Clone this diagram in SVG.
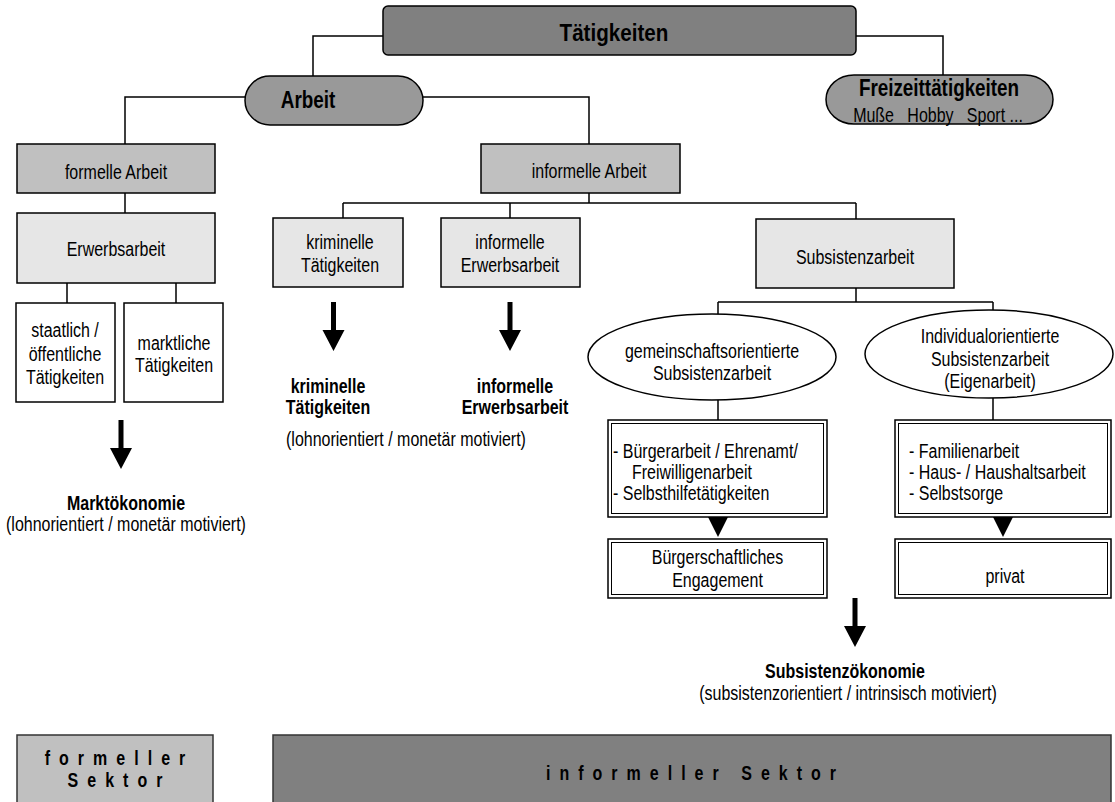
<svg xmlns="http://www.w3.org/2000/svg" width="1115" height="802" viewBox="0 0 1115 802">
  <style>
    /* narrow sans: regular sans squeezed horizontally via each label's transform */
    .t { font-family: "Liberation Sans", Arial, sans-serif; font-size: 19.5px; fill: #000; text-anchor: middle; }
    .b { font-weight: bold; }
    .st { text-anchor: start; }
    .ttl { font-size: 23px; font-weight: bold; }
    .sp { font-weight: bold; letter-spacing: 11px; }
    .ln { fill: none; stroke: #000; stroke-width: 1.5; }
    .bx { stroke: #000; stroke-width: 1.5; }
    .dark { fill: #808080; }
    .mid { fill: #999999; }
    .grey { fill: #c0c0c0; }
    .light { fill: #e6e6e6; }
    .white { fill: #ffffff; }
    .dbl-in { fill: none; stroke: #000; stroke-width: 1; }
    .sec { stroke: #333; stroke-width: 1.5; }
  </style>
  <defs>
    <!-- thick down arrow: shaft plus head, origin at top centre -->
    <path id="down-arrow" d="M-2.5,0 H2.5 V28 H11 L0,49 L-11,28 H-2.5 Z" fill="#000"/>
    <!-- small wedge hanging under a framed box -->
    <path id="wedge" d="M-10,0 H10 L0,20 Z" fill="#000"/>
  </defs>

  <rect width="1115" height="802" fill="#fff"/>

  <!-- connectors -->
  <g id="connectors" class="ln">
    <path d="M383,36 H313 V76"/>
    <path d="M856,36 H943 V75"/>
    <path d="M245,97 H125 V144"/>
    <path d="M423,97 H589 V144"/>
    <path d="M125,193 V213"/>
    <path d="M67,283 V303 M176,283 V303"/>
    <path d="M589,193 V203 M343,203 H856 M343,203 V218 M510,203 V218 M856,203 V219"/>
    <path d="M856,288 V302 M718,302 H993 M718,302 V314 M993,302 V310"/>
    <path d="M718,400 V420 M993,398 V420"/>
  </g>

  <g id="n-taetigkeiten">
    <rect class="bx dark" x="383" y="6" width="473" height="49" rx="5"/>
    <text class="t b" transform="translate(614 41) scale(.86 1)" style="font-size:24px">Tätigkeiten</text>
  </g>

  <g id="n-arbeit">
    <path class="bx mid" d="M270,76 H398 A25,24.5 0 0 1 398,125 H270 A25,24.5 0 0 1 270,76 Z"/>
    <text class="t ttl" transform="translate(308 108) scale(.82 1)">Arbeit</text>
  </g>

  <g id="n-freizeit">
    <rect class="bx mid" x="826" y="75" width="227" height="49" rx="28" ry="24.5"/>
    <text class="t ttl" transform="translate(939 96) scale(.82 1)">Freizeittätigkeiten</text>
    <text class="t" transform="translate(938 122) scale(.82 1)" xml:space="preserve">Muße   Hobby   Sport ...</text>
  </g>

  <g id="n-formelle-arbeit">
    <rect class="bx grey" x="17" y="144" width="198" height="49"/>
    <text class="t" transform="translate(116 179) scale(.82 1)">formelle Arbeit</text>
  </g>

  <g id="n-erwerbsarbeit">
    <rect class="bx light" x="17" y="213" width="198" height="70"/>
    <text class="t" transform="translate(116 256) scale(.82 1)">Erwerbsarbeit</text>
  </g>

  <g id="n-staatlich">
    <rect class="bx white" x="16" y="303" width="99" height="99"/>
    <text class="t" transform="translate(65 337) scale(.82 1)">staatlich /</text>
    <text class="t" transform="translate(65 361) scale(.82 1)">öffentliche</text>
    <text class="t" transform="translate(65 384) scale(.82 1)">Tätigkeiten</text>
  </g>

  <g id="n-marktlich">
    <rect class="bx white" x="124" y="303" width="99" height="99"/>
    <text class="t" transform="translate(174 350) scale(.82 1)">marktliche</text>
    <text class="t" transform="translate(174 372) scale(.82 1)">Tätigkeiten</text>
  </g>

  <g id="n-marktoekonomie">
    <use href="#down-arrow" x="121" y="420"/>
    <text class="t b" transform="translate(126 510) scale(.82 1)">Marktökonomie</text>
    <text class="t" transform="translate(126 531) scale(.82 1)">(lohnorientiert / monetär motiviert)</text>
  </g>

  <g id="n-informelle-arbeit">
    <rect class="bx grey" x="481" y="144" width="199" height="49"/>
    <text class="t" transform="translate(589 178) scale(.82 1)">informelle Arbeit</text>
  </g>

  <g id="n-kriminell">
    <rect class="bx light" x="273" y="218" width="130" height="69"/>
    <text class="t" transform="translate(340 249) scale(.82 1)">kriminelle</text>
    <text class="t" transform="translate(340 272) scale(.82 1)">Tätigkeiten</text>
  </g>

  <g id="n-informelle-erwerbsarbeit">
    <rect class="bx light" x="441" y="218" width="139" height="69"/>
    <text class="t" transform="translate(510 249) scale(.82 1)">informelle</text>
    <text class="t" transform="translate(510 272) scale(.82 1)">Erwerbsarbeit</text>
  </g>

  <g id="n-schattenwirtschaft">
    <use href="#down-arrow" x="333.5" y="302"/>
    <use href="#down-arrow" x="510" y="302"/>
    <text class="t b" transform="translate(328 393) scale(.82 1)">kriminelle</text>
    <text class="t b" transform="translate(328 414) scale(.82 1)">Tätigkeiten</text>
    <text class="t b" transform="translate(515 393) scale(.82 1)">informelle</text>
    <text class="t b" transform="translate(515 414) scale(.82 1)">Erwerbsarbeit</text>
    <text class="t" transform="translate(406 446) scale(.82 1)">(lohnorientiert / monetär motiviert)</text>
  </g>

  <g id="n-subsistenzarbeit">
    <rect class="bx light" x="756" y="219" width="198" height="69"/>
    <text class="t" transform="translate(855 264) scale(.82 1)">Subsistenzarbeit</text>
  </g>

  <g id="n-gemeinschaft">
    <ellipse class="bx white" cx="712" cy="357" rx="124" ry="43"/>
    <text class="t" transform="translate(712 358) scale(.82 1)">gemeinschaftsorientierte</text>
    <text class="t" transform="translate(712 380) scale(.82 1)">Subsistenzarbeit</text>
  </g>

  <g id="n-individual">
    <ellipse class="bx white" cx="989" cy="354" rx="124" ry="44"/>
    <text class="t" transform="translate(990 343) scale(.82 1)">Individualorientierte</text>
    <text class="t" transform="translate(990 366) scale(.82 1)">Subsistenzarbeit</text>
    <text class="t" transform="translate(990 388) scale(.82 1)">(Eigenarbeit)</text>
  </g>

  <g id="n-buergerarbeit">
    <rect class="bx white" x="608" y="420" width="219" height="97"/>
    <rect class="dbl-in" x="611.5" y="423.5" width="212" height="90"/>
    <text class="t st" transform="translate(613 458) scale(.82 1)">- Bürgerarbeit / Ehrenamt/</text>
    <text class="t st" transform="translate(632 479) scale(.82 1)">Freiwilligenarbeit</text>
    <text class="t st" transform="translate(613 500) scale(.82 1)">- Selbsthilfetätigkeiten</text>
    <use href="#wedge" x="718" y="517"/>
  </g>

  <g id="n-familienarbeit">
    <rect class="bx white" x="895" y="420" width="216" height="97"/>
    <rect class="dbl-in" x="898.5" y="423.5" width="209" height="90"/>
    <text class="t st" transform="translate(909 458) scale(.82 1)">- Familienarbeit</text>
    <text class="t st" transform="translate(909 479) scale(.82 1)">- Haus- / Haushaltsarbeit</text>
    <text class="t st" transform="translate(909 500) scale(.82 1)">- Selbstsorge</text>
    <use href="#wedge" x="1003" y="517"/>
  </g>

  <g id="n-engagement">
    <rect class="bx white" x="608" y="539" width="219" height="59"/>
    <rect class="dbl-in" x="611.5" y="542.5" width="212" height="52"/>
    <text class="t" transform="translate(717.5 564) scale(.82 1)">Bürgerschaftliches</text>
    <text class="t" transform="translate(717.5 587) scale(.82 1)">Engagement</text>
  </g>

  <g id="n-privat">
    <rect class="bx white" x="895" y="539" width="216" height="59"/>
    <rect class="dbl-in" x="898.5" y="542.5" width="209" height="52"/>
    <text class="t" transform="translate(1005 583) scale(.82 1)">privat</text>
  </g>

  <g id="n-subsistenzoekonomie">
    <use href="#down-arrow" x="855" y="598"/>
    <text class="t b" transform="translate(845 678) scale(.82 1)">Subsistenzökonomie</text>
    <text class="t" transform="translate(848 700) scale(.82 1)">(subsistenzorientiert / intrinsisch motiviert)</text>
  </g>

  <g id="n-formeller-sektor">
    <rect class="sec grey" x="17" y="735" width="196" height="70"/>
    <text class="t sp" transform="translate(119.5 765) scale(.82 1)">formeller</text>
    <text class="t sp" transform="translate(119.5 787) scale(.82 1)">Sektor</text>
  </g>

  <g id="n-informeller-sektor">
    <rect class="sec dark" x="273" y="735" width="838" height="70"/>
    <text class="t sp" transform="translate(695.5 780) scale(.82 1)">informeller Sektor</text>
  </g>
</svg>
